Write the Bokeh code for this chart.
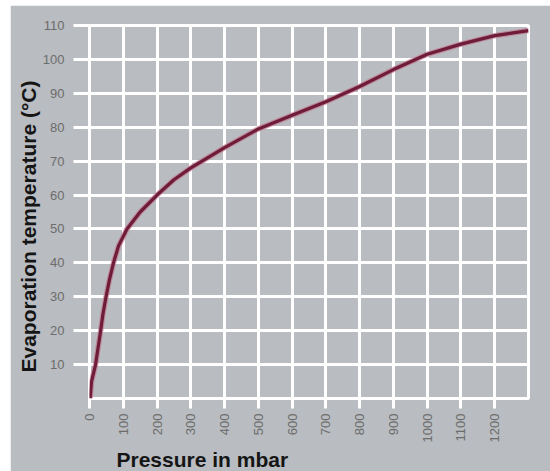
import math
from bokeh.plotting import figure
from bokeh.models import FixedTicker, Title
from bokeh.embed import file_html
from bokeh.resources import INLINE

# Data
pressure_mbar = [2, 6, 18, 33, 40, 49, 59, 71, 86, 111, 150, 200, 250, 300, 400, 500,
                 600, 700, 800, 900, 1000, 1100, 1200, 1300]
evap_temp_c = [0, 5, 10, 20, 25, 30, 35, 40, 45, 50, 55, 60, 64.5, 68, 74, 79.5,
               83.5, 87.5, 92, 97, 101.5, 104.5, 107, 108.5]

x_ticks = [0, 100, 200, 300, 400, 500, 600, 700, 800, 900, 1000, 1100, 1200]
y_ticks = [10, 20, 30, 40, 50, 60, 70, 80, 90, 100, 110]
x_title = "Pressure in mbar"
y_title = "Evaporation temperature (°C)"

BG = "#b9bcc0"
TICK_TXT = "#6c6c6c"
FONT = "Liberation Sans"

p = figure(width=540, height=466, output_backend="svg", toolbar_location=None,
           x_range=(0, 1300), y_range=(0, 110),
           min_border_left=79, min_border_right=22, min_border_top=20, min_border_bottom=73)
p.margin = (5, 0, 0, 10)
p.background_fill_color = BG
p.border_fill_color = BG
p.outline_line_color = "white"
p.outline_line_width = 3

# axes
p.xaxis.ticker = FixedTicker(ticks=x_ticks)
p.yaxis.ticker = FixedTicker(ticks=y_ticks)
for ax in (p.xaxis[0], p.yaxis[0]):
    ax.axis_line_color = None
    ax.minor_tick_line_color = None
    ax.major_tick_line_color = "white"
    ax.major_tick_line_width = 3
    ax.major_tick_in = 0
    ax.major_label_text_color = TICK_TXT
    ax.major_label_text_font = FONT
p.xaxis.major_tick_out = 10
p.xaxis.major_label_standoff = 5
p.xaxis.major_label_orientation = math.pi / 2
p.xaxis.major_label_text_font_size = "13px"
p.yaxis.major_tick_out = 16
p.yaxis.major_label_standoff = 9
p.yaxis.major_label_text_font_size = "13px"

p.xgrid.ticker = FixedTicker(ticks=x_ticks[1:])
p.ygrid.ticker = FixedTicker(ticks=y_ticks)
p.grid.grid_line_color = "white"
p.grid.grid_line_width = 3
p.grid.grid_line_alpha = 1.0

# curve with a soft pink fringe
p.line(pressure_mbar, evap_temp_c, line_color="#c07890", line_width=5.5, line_alpha=0.7)
p.line(pressure_mbar, evap_temp_c, line_color="#6e1c38", line_width=3.2)

# axis titles
p.add_layout(Title(text=x_title, align="left", offset=27, standoff=0,
                   text_color="#151515", text_font=FONT, text_font_size="21px",
                   text_font_style="bold"), "below")
p.add_layout(Title(text=y_title, align="left", offset=26, standoff=0,
                   text_color="#151515", text_font=FONT, text_font_size="21px",
                   text_font_style="bold"), "left")

open("out.html", "w").write(file_html(p, INLINE))
